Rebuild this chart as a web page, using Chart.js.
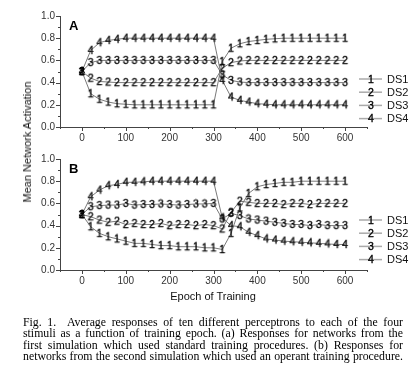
<!DOCTYPE html>
<html>
<head>
<meta charset="utf-8">
<script src="https://cdn.jsdelivr.net/npm/chart.js@4.4.1/dist/chart.umd.min.js"></script>
<style>
html,body{margin:0;padding:0;background:#fff;width:413px;height:381px;overflow:hidden;}
canvas{position:absolute;left:0;}
#cA{top:0;}
#cB{top:143px;}
.ytitle{position:absolute;left:27px;top:142px;transform:translate(-50%,-50%) rotate(-90deg);font:11px "Liberation Sans",Arial,sans-serif;color:#111;white-space:nowrap;}
.xtitle{position:absolute;left:213px;top:296px;transform:translate(-50%,-50%);font:11px "Liberation Sans",Arial,sans-serif;color:#111;white-space:nowrap;}
.cap{position:absolute;left:23px;top:317px;width:380px;font:11.8px "Liberation Serif","Times New Roman",serif;color:#000;line-height:11.3px;}
.cap div{text-align:justify;text-align-last:justify;}
</style>
</head>
<body>
<canvas id="cA" width="413" height="145"></canvas>
<canvas id="cB" width="413" height="145"></canvas>
<div class="ytitle">Mean Network Activation</div>
<div class="xtitle">Epoch of Training</div>
<div class="cap">
<div>Fig. 1.&nbsp; Average responses of ten different perceptrons to each of the four</div>
<div>stimuli as a function of training epoch. (a) Responses for networks from the</div>
<div>first simulation which used standard training procedures. (b) Responses for</div>
<div>networks from the second simulation which used an operant training procedure.</div>
</div>
<script>
// ---- data ----
const epochs = [0,20,40,60,80,100,120,140,160,180,200,220,240,260,280,300,320,340,360,380,400,420,440,460,480,500,520,540,560,580,600];
const seriesNames = ['DS1','DS2','DS3','DS4'];
const markerDigits = ['1','2','3','4'];

const panelA_DS1 = [0.5,0.30,0.25,0.225,0.21,0.205,0.2,0.2,0.2,0.2,0.2,0.2,0.2,0.2,0.2,0.2,0.59,0.71,0.75,0.77,0.78,0.79,0.795,0.8,0.8,0.8,0.8,0.8,0.8,0.8,0.8];
const panelA_DS2 = [0.5,0.44,0.41,0.405,0.4,0.4,0.4,0.4,0.4,0.4,0.4,0.4,0.4,0.4,0.4,0.4,0.53,0.58,0.595,0.6,0.6,0.6,0.6,0.6,0.6,0.6,0.6,0.6,0.6,0.6,0.6];
const panelA_DS3 = [0.5,0.58,0.6,0.6,0.6,0.6,0.6,0.6,0.6,0.6,0.6,0.6,0.6,0.6,0.6,0.6,0.47,0.42,0.405,0.4,0.4,0.4,0.4,0.4,0.4,0.4,0.4,0.4,0.4,0.4,0.4];
const panelA_DS4 = [0.5,0.69,0.76,0.78,0.79,0.8,0.8,0.8,0.8,0.8,0.8,0.8,0.8,0.8,0.8,0.8,0.42,0.27,0.24,0.225,0.21,0.205,0.2,0.2,0.2,0.2,0.2,0.2,0.2,0.2,0.2];

const panelB_DS1 = [0.5,0.39,0.33,0.30,0.28,0.26,0.24,0.24,0.23,0.22,0.22,0.21,0.21,0.21,0.2,0.2,0.185,0.33,0.56,0.69,0.75,0.77,0.78,0.79,0.79,0.8,0.8,0.8,0.8,0.8,0.8];
const panelB_DS2 = [0.5,0.48,0.45,0.43,0.44,0.41,0.42,0.41,0.41,0.42,0.40,0.41,0.41,0.40,0.41,0.40,0.37,0.52,0.62,0.61,0.6,0.6,0.6,0.59,0.6,0.6,0.59,0.6,0.6,0.6,0.6];
const panelB_DS3 = [0.5,0.57,0.58,0.585,0.585,0.6,0.585,0.59,0.59,0.595,0.59,0.585,0.59,0.595,0.595,0.6,0.46,0.51,0.49,0.46,0.45,0.44,0.43,0.42,0.41,0.41,0.4,0.41,0.4,0.4,0.4];
const panelB_DS4 = [0.5,0.66,0.72,0.76,0.77,0.79,0.79,0.795,0.8,0.8,0.8,0.8,0.8,0.8,0.8,0.8,0.47,0.40,0.39,0.34,0.31,0.28,0.27,0.26,0.255,0.25,0.245,0.24,0.235,0.23,0.23];

const xTickValues = [0,100,200,300,400,500,600];
const xMinorValues = [-50,50,150,250,350,450,550,650];
const yTickValues = [0,0.2,0.4,0.6,0.8,1.0];
const yMinorValues = [0.1,0.3,0.5,0.7,0.9];

// ---- marker images (digits) ----
function digitImage(d){
  const c = document.createElement('canvas');
  c.width = 8; c.height = 11;
  const g = c.getContext('2d');
  g.font = '10.5px "Liberation Sans", Arial, sans-serif';
  g.fillStyle = '#000';
  g.strokeStyle = '#000';
  g.lineWidth = 0.35;
  g.textAlign = 'center';
  g.textBaseline = 'middle';
  g.fillText(d, 4, 6);
  g.strokeText(d, 4, 6);
  return c;
}
const markerImgs = markerDigits.map(digitImage);

const decorPlugin = {
  id: 'decor',
  afterDraw(chart, args, opts){
    const ctx = chart.ctx, xs = chart.scales.x, ys = chart.scales.y, ca = chart.chartArea;
    ctx.save();
    ctx.strokeStyle = '#444'; ctx.lineWidth = 1;
    const tx = (v,len)=>{const p=Math.round(xs.getPixelForValue(v))+0.5;ctx.beginPath();ctx.moveTo(p,ca.bottom);ctx.lineTo(p,ca.bottom+len);ctx.stroke();};
    const ty = (v,len)=>{const p=Math.round(ys.getPixelForValue(v))+0.5;ctx.beginPath();ctx.moveTo(ca.left,p);ctx.lineTo(ca.left-len,p);ctx.stroke();};
    xTickValues.forEach(v=>tx(v,4)); xMinorValues.forEach(v=>tx(v,2));
    yTickValues.forEach(v=>ty(v,4)); yMinorValues.forEach(v=>ty(v,2));
    // panel letter
    ctx.fillStyle = '#000';
    ctx.font = 'bold 13px "Liberation Sans", Arial, sans-serif';
    ctx.textBaseline = 'alphabetic'; ctx.textAlign = 'left';
    ctx.fillText(opts.letter, ca.left + 9, ca.top + 14);
    // legend
    ctx.font = '11px "Liberation Sans", Arial, sans-serif';
    ctx.textBaseline = 'middle';
    chart.data.datasets.forEach((ds,i)=>{
      const y = ca.top + opts.legendTop + i*13.2;
      ctx.strokeStyle = '#aaa'; ctx.lineWidth = 1.5;
      ctx.beginPath(); ctx.moveTo(359,y); ctx.lineTo(382,y); ctx.stroke();
      const im = ds.pointStyle;
      ctx.drawImage(im, Math.round(370.5 - im.width/2), Math.round(y - im.height/2));
      ctx.fillStyle = '#111';
      ctx.fillText(ds.label, 387, y + 0.5);
    });
    ctx.restore();
  }
};

function makePanel(id, letter, series, legendTop){
  const datasets = series.map((arr,i)=>({
    label: seriesNames[i],
    data: epochs.map((e,k)=>({x:e, y:arr[k]})),
    borderColor: '#6a6a6a',
    borderWidth: 0.9,
    pointStyle: markerImgs[i],
    pointRadius: 5,
    pointHoverRadius: 5,
    tension: 0,
    fill: false
  }));
  return new Chart(document.getElementById(id), {
    type: 'line',
    data: { datasets },
    options: {
      responsive: false,
      animation: false,
      devicePixelRatio: 1,
      layout: { padding: { top: 16, right: 46, left: 0, bottom: 0 } },
      plugins: { legend: { display: false }, tooltip: { enabled: false }, decor: { letter, legendTop } },
      scales: {
        x: {
          type: 'linear', min: -50, max: 650,
          grid: { display: false, drawTicks: false, tickLength: 0 },
          border: { display: true, color: '#444', width: 1 },
          afterBuildTicks: s => { s.ticks = xTickValues.map(v=>({value:v})); },
          afterFit: s => { s.height = 18; },
          ticks: { autoSkip: false, maxRotation: 0, padding: 5, color: '#333', font: { family: '"Liberation Sans", Arial, sans-serif', size: 10 }, callback: v => String(v) }
        },
        y: {
          type: 'linear', min: 0, max: 1,
          grid: { display: false, drawTicks: false, tickLength: 0 },
          border: { display: true, color: '#444', width: 1 },
          afterBuildTicks: s => { s.ticks = yTickValues.map(v=>({value:v})); },
          afterFit: s => { s.width = 60; },
          ticks: { autoSkip: false, padding: 5, color: '#333', font: { family: '"Liberation Sans", Arial, sans-serif', size: 10 }, callback: v => Number(v).toFixed(1) }
        }
      }
    },
    plugins: [decorPlugin]
  });
}

makePanel('cA', 'A', [panelA_DS1, panelA_DS2, panelA_DS3, panelA_DS4], 63);
makePanel('cB', 'B', [panelB_DS1, panelB_DS2, panelB_DS3, panelB_DS4], 61);
</script>
</body>
</html>
